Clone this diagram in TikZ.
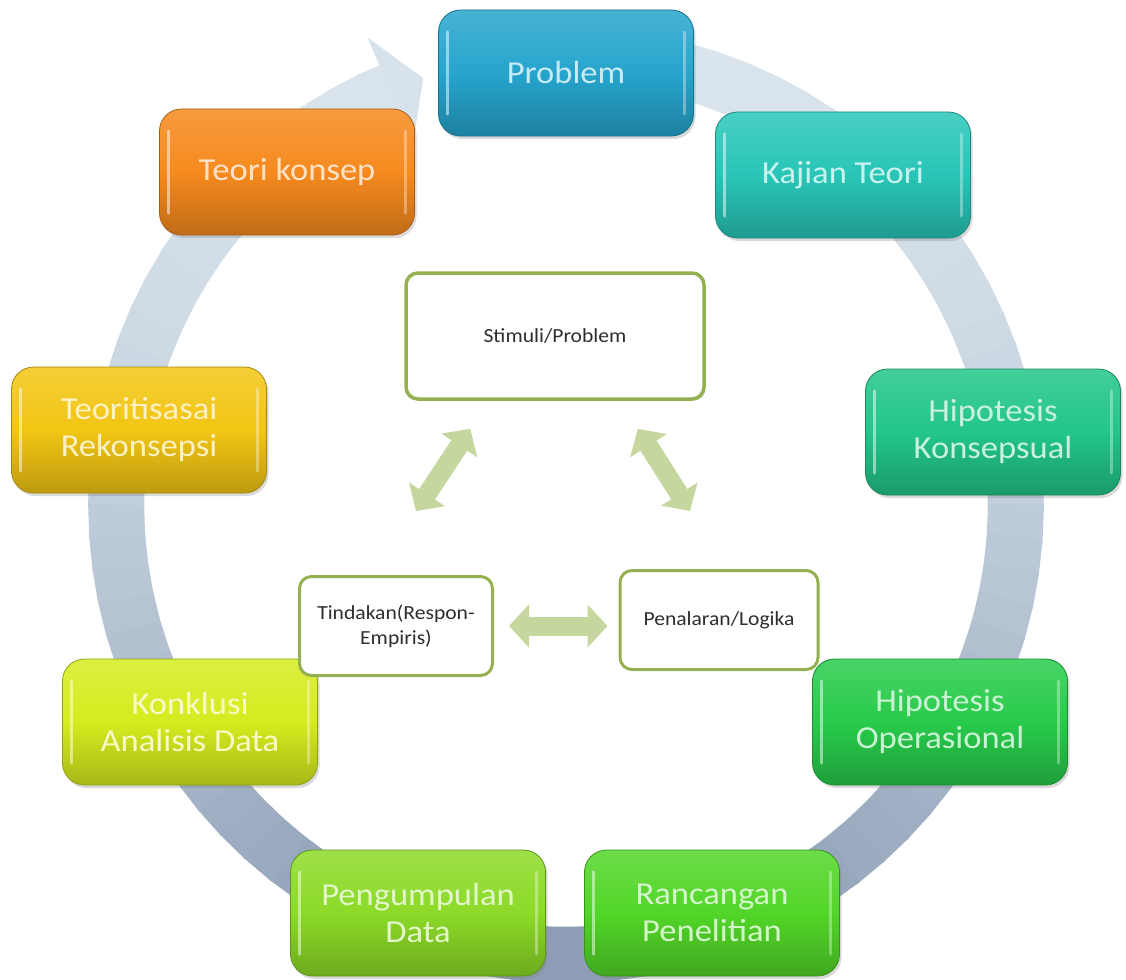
\documentclass[tikz,border=0pt]{standalone}
\usepackage{fontspec}
\setmainfont{Carlito}[FakeStretch=1.08]
\usetikzlibrary{arrows.meta,shadows,calc}

% step colours
\definecolor{probcol}{HTML}{26A5CD}
\definecolor{kajcol}{HTML}{28C6B8}
\definecolor{hkcol}{HTML}{22C688}
\definecolor{hocol}{HTML}{28CB4B}
\definecolor{rancol}{HTML}{52D628}
\definecolor{pengcol}{HTML}{8CDA28}
\definecolor{konkcol}{HTML}{D5EC1E}
\definecolor{teorcol}{HTML}{F2C614}
\definecolor{tkcol}{HTML}{F68A1E}
% ring and centre
\definecolor{ringtop}{HTML}{D9E4EC}
\definecolor{ringbot}{HTML}{8C9DB5}
\definecolor{olive}{HTML}{94B152}
\definecolor{arrg}{HTML}{C5D79E}

\begin{document}
\begin{tikzpicture}[x=1pt,y=-1pt,
  cbox/.style={rounded corners=22, minimum width=255, minimum height=126,
    align=center, inner sep=4, font=\fontsize{32}{37}\selectfont,
    top color=#1!85!white, bottom color=#1!78!black, middle color=#1,
    draw=#1!68!black, line width=0.8, text=#1!25!white,
    drop shadow={shadow xshift=2pt, shadow yshift=-3pt, opacity=0.3},
    path picture={
      \draw[white, opacity=0.5, line width=3.5, line cap=round]
        ($(path picture bounding box.north west)+(9,22)$) --
        ($(path picture bounding box.south west)+(9,-22)$);
      \draw[white, opacity=0.35, line width=3, line cap=round]
        ($(path picture bounding box.north east)+(-9,22)$) --
        ($(path picture bounding box.south east)+(-9,-22)$);
    }},
  ibox/.style={draw=olive, fill=white, rounded corners=12, line width=3,
    align=center, font=\fontsize{20}{25}\selectfont, text=black!82},
  blockarrow/.style={arrg, line width=19,
    {Triangle[length=20pt,width=42pt]}-{Triangle[length=20pt,width=42pt]}},
]
\useasboundingbox (0,0) rectangle (1126,979);

% circular arrow behind the steps, shaded from top to bottom
\begin{scope}[shift={(566,505)}]
  \foreach \a in {-100,-96,...,244}{
    \pgfmathsetmacro\b{\a+4.6}
    \pgfmathsetmacro\p{100*((1+sin(\a+2))/2)^1.6}
    \draw[ringbot!\p!ringtop, line width=56] (\a:450) -- (\b:450);
  }
  \fill[ringtop!97!ringbot] (247:392) -- (247:508) -- (251.5:450) -- cycle;
\end{scope}

% steps of the cycle
\node[cbox=probcol] (prob) at (566,73) {Problem};
\node[cbox=kajcol]  (kaj)  at (843,175) {Kajian Teori};
\node[cbox=hkcol]   (hk)   at (993,432) {Hipotesis\\Konsepsual};
\node[cbox=hocol]   (ho)   at (940,722) {Hipotesis\\Operasional};
\node[cbox=rancol]  (ranc) at (712,913) {Rancangan\\Penelitian};
\node[cbox=pengcol] (peng) at (418,913) {Pengumpulan\\Data};
\node[cbox=konkcol] (konk) at (190,722) {Konklusi\\Analisis Data};
\node[cbox=teorcol] (teor) at (139,430) {Teoritisasai\\Rekonsepsi};
\node[cbox=tkcol]   (tk)   at (287,172) {Teori konsep};

% inner triangle
\node[ibox, minimum width=298, minimum height=126, line width=3.5,
  drop shadow={shadow xshift=1.5pt, shadow yshift=-2pt, opacity=0.2}]
  (stim) at (555,336) {Stimuli/Problem};
\node[ibox, minimum width=193, minimum height=99] (tind) at (396,626)
  {Tindakan(Respon-\\Empiris)};
\node[ibox, minimum width=198, minimum height=99] (pen) at (719,620)
  {Penalaran/Logika};

\coordinate (l1) at ($(stim.south west)+(66,28)$);
\coordinate (l2) at ($(tind.north)+(20,-64)$);
\coordinate (r1) at ($(stim.south east)+(-68,28)$);
\coordinate (r2) at ($(pen.north)+(-29,-58)$);
\coordinate (h1) at ($(tind.east)+(15,0)$);
\coordinate (h2) at ($(pen.west)+(-11,6)$);

\draw[blockarrow] (l1) -- (l2);
\draw[blockarrow] (r1) -- (r2);
\draw[blockarrow] (h1) -- (h2);
\end{tikzpicture}
\end{document}
